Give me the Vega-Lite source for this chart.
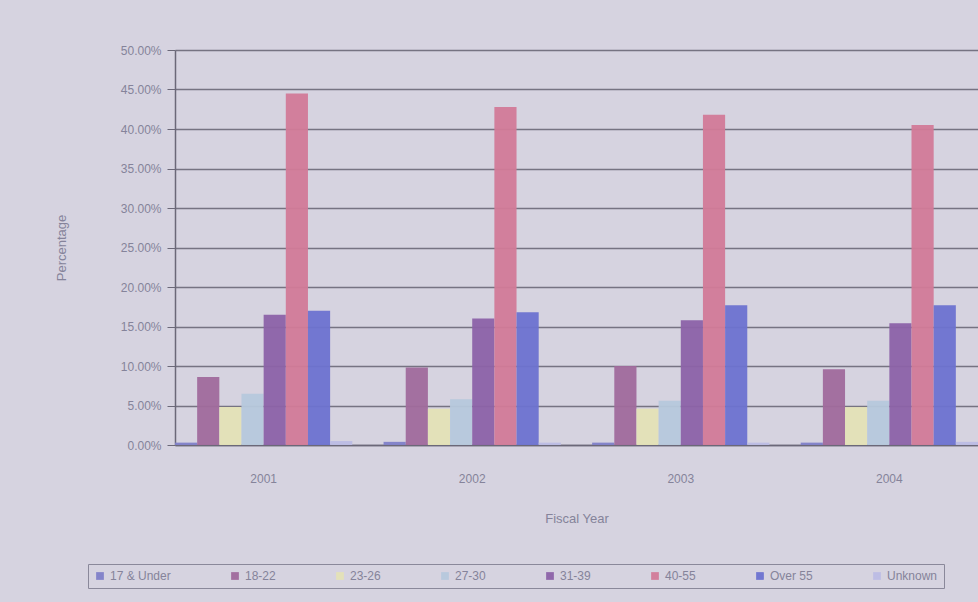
{
  "$schema": "https://vega.github.io/schema/vega-lite/v6.json",
  "autosize": "none",
  "width": 803,
  "height": 395,
  "padding": {"left": 175, "top": 50, "right": 0, "bottom": 157},
  "background": "#d6d3e0",
  "config": {
    "view": {"stroke": null},
    "font": "Liberation Sans",
    "axis": {"labelColor": "#85839a", "titleColor": "#85839a", "labelFont": "Liberation Sans", "titleFont": "Liberation Sans", "titleFontWeight": "normal"},
    "legend": {"labelColor": "#85839a", "labelFont": "Liberation Sans"}
  },
  "data": {
    "values": [
      {"year": "2001", "age": "17 & Under", "pct": 0.003},
      {"year": "2001", "age": "18-22", "pct": 0.086},
      {"year": "2001", "age": "23-26", "pct": 0.048},
      {"year": "2001", "age": "27-30", "pct": 0.065},
      {"year": "2001", "age": "31-39", "pct": 0.165},
      {"year": "2001", "age": "40-55", "pct": 0.445},
      {"year": "2001", "age": "Over 55", "pct": 0.170},
      {"year": "2001", "age": "Unknown", "pct": 0.005},
      {"year": "2002", "age": "17 & Under", "pct": 0.004},
      {"year": "2002", "age": "18-22", "pct": 0.098},
      {"year": "2002", "age": "23-26", "pct": 0.046},
      {"year": "2002", "age": "27-30", "pct": 0.058},
      {"year": "2002", "age": "31-39", "pct": 0.160},
      {"year": "2002", "age": "40-55", "pct": 0.428},
      {"year": "2002", "age": "Over 55", "pct": 0.168},
      {"year": "2002", "age": "Unknown", "pct": 0.003},
      {"year": "2003", "age": "17 & Under", "pct": 0.003},
      {"year": "2003", "age": "18-22", "pct": 0.100},
      {"year": "2003", "age": "23-26", "pct": 0.046},
      {"year": "2003", "age": "27-30", "pct": 0.056},
      {"year": "2003", "age": "31-39", "pct": 0.158},
      {"year": "2003", "age": "40-55", "pct": 0.418},
      {"year": "2003", "age": "Over 55", "pct": 0.177},
      {"year": "2003", "age": "Unknown", "pct": 0.003},
      {"year": "2004", "age": "17 & Under", "pct": 0.003},
      {"year": "2004", "age": "18-22", "pct": 0.096},
      {"year": "2004", "age": "23-26", "pct": 0.048},
      {"year": "2004", "age": "27-30", "pct": 0.056},
      {"year": "2004", "age": "31-39", "pct": 0.154},
      {"year": "2004", "age": "40-55", "pct": 0.405},
      {"year": "2004", "age": "Over 55", "pct": 0.177},
      {"year": "2004", "age": "Unknown", "pct": 0.004}
    ]
  },
  "mark": {"type": "bar", "opacity": 0.95},
  "encoding": {
    "x": {
      "field": "year", "type": "nominal",
      "scale": {"paddingInner": 0.15, "paddingOuter": 0},
      "axis": {"title": "Fiscal Year", "labelAngle": 0, "labelFontSize": 12, "titleFontSize": 13, "labelPadding": 28, "titlePadding": 28, "domainColor": "#6b6878", "domainWidth": 1.5, "ticks": false}
    },
    "xOffset": {"field": "age", "sort": ["17 & Under", "18-22", "23-26", "27-30", "31-39", "40-55", "Over 55", "Unknown"]},
    "y": {
      "field": "pct", "type": "quantitative",
      "scale": {"domain": [0, 0.5], "nice": false},
      "axis": {"title": "Percentage", "format": ".2%", "values": [0, 0.05, 0.1, 0.15, 0.2, 0.25, 0.3, 0.35, 0.4, 0.45, 0.5], "labelFontSize": 12, "titleFontSize": 13, "titlePadding": 52, "tickSize": 8, "labelPadding": 6, "tickColor": "#6b6878", "domainColor": "#6b6878", "domainWidth": 1.5, "gridColor": "#6b6878", "gridWidth": 1.5, "gridOpacity": 0.9}
    },
    "color": {
      "field": "age", "type": "nominal",
      "sort": ["17 & Under", "18-22", "23-26", "27-30", "31-39", "40-55", "Over 55", "Unknown"],
      "scale": {
        "domain": ["17 & Under", "18-22", "23-26", "27-30", "31-39", "40-55", "Over 55", "Unknown"],
        "range": ["#7f7fc8", "#a06a9c", "#e4e2b6", "#b6c8dc", "#8c62a8", "#d27a98", "#6d72d0", "#bcbce4"]
      },
      "legend": {
        "title": null, "orient": "none", "legendX": -87, "legendY": 514, "direction": "horizontal", "columns": 8,
        "symbolType": "square", "symbolSize": 60, "labelFontSize": 12, "columnPadding": 58,
        "strokeColor": "#8a889a", "padding": 6
      }
    }
  }
}
